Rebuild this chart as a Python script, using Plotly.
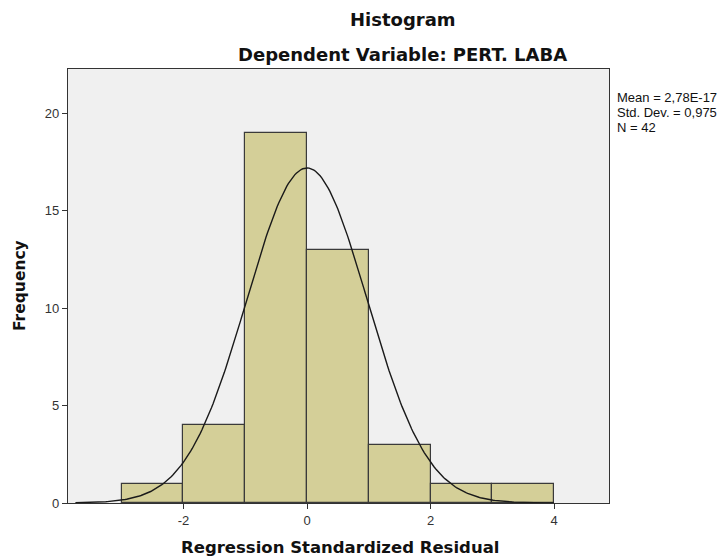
import numpy as np
import plotly.graph_objects as go

bin_left = [-3, -2, -1, 0, 1, 2, 3]
bin_right = [-2, -1, 0, 1, 2, 3, 4]
counts = [1, 4, 19, 13, 3, 1, 1]
mean_val = 2.78e-17
std_val = 0.975
n_val = 42
stats_lines = ["Mean = 2,78E-17", "Std. Dev. = 0,975", "N = 42"]
x_ticks = [-2, 0, 2, 4]
x_tick_text = ["-2", "0", "2", "4"]
y_ticks = [0, 5, 10, 15, 20]

centers = [(a + b) / 2 for a, b in zip(bin_left, bin_right)]
widths = [b - a for a, b in zip(bin_left, bin_right)]

xs = np.linspace(-3.75, 4.0, 300)
ys = n_val * 1.0 / (std_val * np.sqrt(2 * np.pi)) * np.exp(-0.5 * ((xs - mean_val) / std_val) ** 2)

title_font = "DejaVu Sans, Verdana, sans-serif"

fig = go.Figure()
fig.add_trace(go.Bar(x=centers, y=counts, width=widths,
                     marker=dict(color="#D4CF98", line=dict(color="#3a3a3a", width=1.2)),
                     showlegend=False, hoverinfo="skip"))
fig.add_trace(go.Scatter(x=xs, y=ys, mode="lines", line=dict(color="#1a1a1a", width=1.4),
                         showlegend=False, hoverinfo="skip"))

annotations = [
    dict(text="<b>Histogram</b>", xref="paper", yref="paper", x=0.619, y=1.0, yshift=50,
         xanchor="center", yanchor="middle", showarrow=False, font=dict(family=title_font, size=18, color="#111")),
    dict(text="<b>Dependent Variable: PERT. LABA</b>", xref="paper", yref="paper", x=0.619, y=1.0, yshift=15,
         xanchor="center", yanchor="middle", showarrow=False, font=dict(family=title_font, size=18, color="#111")),
    dict(text="<b>Regression Standardized Residual</b>", xref="paper", yref="paper", x=0.503, y=0, yshift=-44,
         xanchor="center", yanchor="middle", showarrow=False, font=dict(family=title_font, size=16.5, color="#111")),
    dict(text="<b>Frequency</b>", xref="paper", yref="paper", x=0, xshift=-48, y=0.5, textangle=-90,
         xanchor="center", yanchor="middle", showarrow=False, font=dict(family=title_font, size=15.5, color="#111")),
]
for i, line in enumerate(stats_lines):
    annotations.append(dict(text=line, xref="paper", yref="paper", x=1.0, xshift=6, y=1.0, yshift=-28.5 - 15 * i,
                            xanchor="left", yanchor="middle", align="left", showarrow=False,
                            font=dict(size=13, color="#111")))

fig.update_layout(
    width=720, height=551,
    margin=dict(l=60, r=119, t=61, b=56, autoexpand=False),
    paper_bgcolor="white", plot_bgcolor="#F0F0F0",
    font=dict(family="Liberation Sans, Arial, sans-serif", color="#222"),
    bargap=0,
    annotations=annotations,
)
fig.update_xaxes(range=[-3.87, 4.89], tickvals=x_ticks, ticktext=x_tick_text, ticks="outside", ticklen=5, tickcolor="#333",
                 showgrid=False, zeroline=False, showline=True, linecolor="#333", linewidth=1.3, mirror=True,
                 tickfont=dict(size=13, color="#333"), automargin=False)
fig.update_yaxes(range=[0, 22.26], tickvals=y_ticks, ticks="outside", ticklen=5, tickcolor="#333",
                 showgrid=False, zeroline=False, showline=True, linecolor="#333", linewidth=1.3, mirror=True,
                 tickfont=dict(size=13, color="#333"), automargin=False)

fig.write_html("out.html")
